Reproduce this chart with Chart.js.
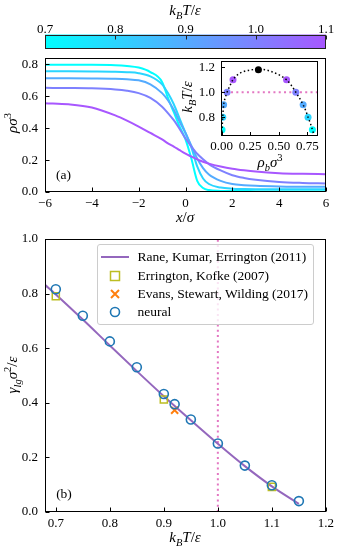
<!DOCTYPE html>
<html>
<head>
<meta charset="utf-8">
<script src="https://cdn.jsdelivr.net/npm/chart.js@4.4.1/dist/chart.umd.min.js"></script>
<style>
  html, body { margin: 0; padding: 0; background: #fff; }
  #fig { position: relative; width: 338px; height: 550px; overflow: hidden; font-family: "Liberation Serif", serif; color: #000; }
  #fig canvas { position: absolute; left: 0; top: 0; }
  .lbl { position: absolute; font-size: 15px; white-space: nowrap; line-height: 1; transform: translate(-50%, -50%); }
  .plain { font-size: 13.5px; }
  .rot { transform: translate(-50%, -50%) rotate(-90deg); }
  .lbl sub, .lbl sup { font-size: 70%; line-height: 0; }
  #legendB { position: absolute; left: 97px; top: 244px; width: 215px; height: 76px; border: 1px solid #ccc; border-radius: 3px;
             background: rgba(255,255,255,0.8); font-size: 13.5px; padding-top: 3px; box-sizing: content-box; white-space: nowrap; }
  #legendB .row { height: 18.4px; display: flex; align-items: center; }
  #legendB svg { margin-left: 3px; margin-right: 8.5px; flex: none; }
</style>
</head>
<body>
<div id="fig">
  <canvas id="cbar" width="338" height="550"></canvas>
  <canvas id="profiles" width="338" height="550"></canvas>
  <canvas id="inset" width="338" height="550"></canvas>
  <canvas id="tension" width="338" height="550"></canvas>

  <div class="lbl" style="left:185px;top:10px"><i>k<sub>B</sub>T</i>/<i>ε</i></div>
  <div class="lbl" style="left:185px;top:217px"><i>x</i>/<i>σ</i></div>
  <div class="lbl rot" style="left:12px;top:123px"><i>ρσ</i><sup>3</sup></div>
  <div class="lbl plain" style="left:63.5px;top:175px">(a)</div>
  <div class="lbl rot" style="left:187px;top:97px"><i>k<sub>B</sub>T</i>/<i>ε</i></div>
  <div class="lbl" style="left:270px;top:162px"><i>ρ<sub>b</sub>σ</i><sup>3</sup></div>
  <div class="lbl rot" style="left:12px;top:375px"><i>γ<sub>lg</sub>σ</i><sup>2</sup>/<i>ε</i></div>
  <div class="lbl" style="left:185px;top:537px"><i>k<sub>B</sub>T</i>/<i>ε</i></div>
  <div class="lbl plain" style="left:64px;top:494px">(b)</div>
  <div id="legendB"></div>
</div>

<script>
// ---- data ----

// colorbar / temperatures
const cbarTicks = [0.7, 0.8, 0.9, 1.0, 1.1];
const profileTemps = [0.7, 0.8, 0.9, 1.0, 1.1];

// (a) density profiles rho(x) at each temperature
const xProfile = [-6, -5, -4, -3, -2.5, -2, -1.5, -1, -0.75, -0.5, -0.25, 0, 0.25, 0.5, 0.75, 1, 1.5, 2, 2.5, 3, 4, 5, 6];
const rhoT07 = [0.797, 0.797, 0.797, 0.795, 0.79, 0.78, 0.752, 0.69, 0.59, 0.50, 0.41, 0.33, 0.21, 0.07, 0.025, 0.012, 0.007, 0.006, 0.006, 0.005, 0.005, 0.005, 0.005];
const rhoT08 = [0.757, 0.757, 0.756, 0.754, 0.751, 0.745, 0.725, 0.675, 0.62, 0.55, 0.46, 0.37, 0.28, 0.16, 0.085, 0.05, 0.028, 0.021, 0.019, 0.018, 0.017, 0.017, 0.017];
const rhoT09 = [0.713, 0.713, 0.712, 0.71, 0.707, 0.70, 0.675, 0.62, 0.575, 0.515, 0.44, 0.37, 0.29, 0.21, 0.15, 0.11, 0.07, 0.05, 0.043, 0.039, 0.035, 0.033, 0.033];
const rhoT10 = [0.653, 0.652, 0.65, 0.643, 0.635, 0.62, 0.59, 0.535, 0.495, 0.45, 0.395, 0.335, 0.285, 0.24, 0.205, 0.175, 0.135, 0.105, 0.088, 0.077, 0.063, 0.057, 0.054];
const rhoT11 = [0.557, 0.55, 0.53, 0.48, 0.447, 0.41, 0.37, 0.33, 0.305, 0.285, 0.262, 0.24, 0.222, 0.205, 0.19, 0.178, 0.16, 0.146, 0.136, 0.128, 0.118, 0.114, 0.112];
const profileRows = [rhoT07, rhoT08, rhoT09, rhoT10, rhoT11];
const xTicksA = [-6, -4, -2, 0, 2, 4, 6];
const yTicksA = [0.0, 0.2, 0.4, 0.6, 0.8];

// inset: binodal
const binoRho = [0.001, 0.004, 0.010, 0.018, 0.030, 0.048, 0.072, 0.100, 0.14, 0.19, 0.25, 0.32, 0.39, 0.45, 0.51, 0.568, 0.61, 0.649, 0.683, 0.713, 0.737, 0.756, 0.777, 0.794, 0.81];
const binoT = [0.65, 0.70, 0.80, 0.90, 0.95, 1.00, 1.05, 1.10, 1.14, 1.165, 1.178, 1.183, 1.178, 1.16, 1.135, 1.10, 1.055, 1.00, 0.95, 0.90, 0.85, 0.80, 0.75, 0.70, 0.65];
const coexT = [0.7, 0.8, 0.9, 1.0, 1.1];
const rhoVap = [0.004, 0.010, 0.018, 0.048, 0.100];
const rhoLiq = [0.794, 0.756, 0.713, 0.649, 0.568];
const rhoCrit = 0.322, tCrit = 1.18;
const xTicksInset = [0, 0.25, 0.5, 0.75];
const yTicksInset = [0.8, 1.0, 1.2];

// (b) surface tension
const raneT = [0.68, 0.70, 0.75, 0.80, 0.85, 0.90, 0.95, 1.00, 1.05, 1.10, 1.15];
const raneGamma = [0.832, 0.797, 0.705, 0.610, 0.516, 0.424, 0.336, 0.250, 0.168, 0.094, 0.030];
const erringtonT = [0.70, 0.90, 1.10];
const erringtonGamma = [0.790, 0.412, 0.092];
const evansT = [0.92];
const evansGamma = [0.373];
const neuralT = [0.70, 0.75, 0.80, 0.85, 0.90, 0.92, 0.95, 1.00, 1.05, 1.10, 1.15];
const neuralGamma = [0.816, 0.719, 0.625, 0.530, 0.432, 0.395, 0.339, 0.251, 0.170, 0.098, 0.040];
const xTicksB = [0.7, 0.8, 0.9, 1.0, 1.1, 1.2];
const yTicksB = [0.0, 0.2, 0.4, 0.6, 0.8, 1.0];

// ---- helpers ----
const FONT = { family: '"Liberation Serif", serif', size: 13 };
const PINK = '#e377c2';

// "cool" colormap, cut at 0.66 of its range
function coolColor(T) {
  const t = 0.66 * (T - 0.7) / 0.4;
  return `rgb(${Math.round(255 * t)},${Math.round(255 * (1 - t))},255)`;
}
const pts = (xs, ys) => xs.map((x, i) => ({ x, y: ys[i] }));
const fixTicks = (arr) => (s) => { s.ticks = arr.map(v => ({ value: v })); };
const minus = (s) => s.replace('-', '\u2212');

// box + inward ticks, like matplotlib
const framePlugin = {
  id: 'frame',
  beforeDraw(chart, args, opts) {
    const { ctx, chartArea: a } = chart;
    if (opts.fill) {
      ctx.save();
      ctx.fillStyle = opts.fill;
      ctx.fillRect(a.left, a.top, a.right - a.left, a.bottom - a.top);
      ctx.restore();
    }
  },
  beforeDatasetsDraw(chart, args, opts) {
    if (!opts.gradient) return;
    const { ctx, chartArea: a } = chart;
    const g = ctx.createLinearGradient(a.left, 0, a.right, 0);
    g.addColorStop(0, coolColor(0.7));
    g.addColorStop(1, coolColor(1.1));
    ctx.save();
    ctx.fillStyle = g;
    ctx.fillRect(a.left, a.top, a.right - a.left, a.bottom - a.top);
    ctx.restore();
  },
  afterDraw(chart, args, opts) {
    const { ctx, chartArea: a } = chart;
    const len = opts.tickLen || 4;
    ctx.save();
    ctx.strokeStyle = opts.color || '#000';
    ctx.lineWidth = 1;
    const L = Math.round(a.left) + 0.5, R = Math.round(a.right) - 0.5;
    const T = Math.round(a.top) + 0.5, B = Math.round(a.bottom) - 0.5;
    ctx.strokeRect(L, T, R - L, B - T);
    ctx.beginPath();
    const xs = chart.scales.x;
    xs.ticks.forEach(t => {
      const px = Math.round(xs.getPixelForValue(t.value)) + 0.5;
      if (opts.xSide === 'top') { ctx.moveTo(px, T); ctx.lineTo(px, T + len); }
      else { ctx.moveTo(px, B); ctx.lineTo(px, B - len); }
    });
    const ys = chart.scales.y;
    if (ys.options.display !== false) {
      ys.ticks.forEach(t => {
        const py = Math.round(ys.getPixelForValue(t.value)) + 0.5;
        ctx.moveTo(L, py); ctx.lineTo(L + len, py);
      });
    }
    ctx.stroke();
    ctx.restore();
  }
};

const baseOpts = (padding, plugOpts) => ({
  responsive: false,
  animation: false,
  devicePixelRatio: 1,
  layout: { padding },
  plugins: { legend: { display: false }, tooltip: { enabled: false }, frame: plugOpts },
  events: []
});

const axis = (min, max, ticksArr, fmt, pos, size, pad) => ({
  type: 'linear', position: pos, min, max,
  grid: { display: false, drawTicks: false },
  border: { display: false },
  afterBuildTicks: fixTicks(ticksArr),
  afterFit: (s) => { if (pos === 'left') s.width = size; else s.height = size; },
  ticks: { font: FONT, color: '#000', padding: pad, callback: fmt, maxRotation: 0, autoSkip: false }
});

// ---- colorbar ----
new Chart(document.getElementById('cbar'), {
  type: 'scatter',
  data: { datasets: [] },
  options: Object.assign(baseOpts({ top: 14.5, left: 45, right: 12, bottom: 501.5 }, { gradient: true, xSide: 'top', tickLen: 4, color: '#222' }), {
    scales: {
      x: axis(0.7, 1.1, cbarTicks, v => v.toFixed(1), 'top', 20, -3),
      y: { display: false, min: 0, max: 1 }
    }
  }),
  plugins: [framePlugin]
});

// ---- (a) density profiles ----
new Chart(document.getElementById('profiles'), {
  type: 'scatter',
  data: {
    datasets: profileRows.map((row, i) => ({
      data: pts(xProfile, row),
      showLine: true,
      borderColor: coolColor(profileTemps[i]),
      borderWidth: 2,
      pointRadius: 0,
      cubicInterpolationMode: 'monotone',
      order: profileRows.length - i
    }))
  },
  options: Object.assign(baseOpts({ top: 58, left: 15, right: 12, bottom: 338 }, {}), {
    scales: {
      x: axis(-6, 6, xTicksA, v => minus(String(v)), 'bottom', 20, 4),
      y: axis(0, 0.84, yTicksA, v => v.toFixed(1), 'left', 30, 7)
    }
  }),
  plugins: [framePlugin]
});

// ---- inset: binodal ----
new Chart(document.getElementById('inset'), {
  type: 'scatter',
  data: {
    datasets: [
      { data: pts(binoRho, binoT), showLine: true, borderColor: '#000', borderWidth: 1.5, borderDash: [1.5, 2.5],
        pointRadius: 0, cubicInterpolationMode: 'monotone', order: 0 },
      { data: [{ x: rhoCrit, y: tCrit }], pointRadius: 3.5, backgroundColor: '#000', borderWidth: 0, order: 1 },
      { data: pts(rhoVap, coexT).concat(pts(rhoLiq, coexT)),
        pointRadius: 3.5, borderWidth: 0,
        backgroundColor: coexT.concat(coexT).map(coolColor), order: 2 },
      { data: [{ x: -0.01, y: 1.0 }, { x: 0.85, y: 1.0 }], showLine: true, borderColor: PINK, borderWidth: 2,
        borderDash: [2, 3.3], pointRadius: 0, order: 3 }
    ]
  },
  options: Object.assign(baseOpts({ top: 61, left: 191, right: 20, bottom: 398 }, { fill: '#fff', tickLen: 3.5 }), {
    scales: {
      x: axis(-0.005, 0.843, xTicksInset, v => v.toFixed(2), 'bottom', 16, 3),
      y: axis(0.65, 1.25, yTicksInset, v => v.toFixed(1), 'left', 30, 6)
    }
  }),
  plugins: [framePlugin]
});

// ---- (b) surface tension ----
const chartB = new Chart(document.getElementById('tension'), {
  type: 'scatter',
  data: {
    datasets: [
      { label: 'Rane, Kumar, Errington (2011)', data: pts(raneT, raneGamma), showLine: true, borderColor: '#9467bd',
        borderWidth: 2, pointRadius: 0, cubicInterpolationMode: 'monotone', order: 4 },
      { label: 'Errington, Kofke (2007)', data: pts(erringtonT, erringtonGamma), pointStyle: 'rect', pointRadius: 5,
        borderColor: '#bcbd22', backgroundColor: 'rgba(0,0,0,0)', borderWidth: 1.5, order: 3 },
      { label: 'Evans, Stewart, Wilding (2017)', data: pts(evansT, evansGamma), pointStyle: 'crossRot', pointRadius: 5,
        borderColor: '#ff7f0e', borderWidth: 2, order: 2 },
      { label: 'neural', data: pts(neuralT, neuralGamma), pointStyle: 'circle', pointRadius: 4.5,
        borderColor: '#1f77b4', backgroundColor: 'rgba(0,0,0,0)', borderWidth: 1.6, order: 1 },
      { data: [{ x: 1.0, y: 0 }, { x: 1.0, y: 1 }], showLine: true, borderColor: PINK, borderWidth: 2,
        borderDash: [2, 3.3], pointRadius: 0, order: 5 }
    ]
  },
  options: Object.assign(baseOpts({ top: 239, left: 15, right: 12, bottom: 18 }, {}), {
    scales: {
      x: axis(0.68, 1.2, xTicksB, v => v.toFixed(1), 'bottom', 20, 4),
      y: axis(0, 1.0, yTicksB, v => v.toFixed(1), 'left', 30, 7)
    }
  }),
  plugins: [framePlugin]
});

// html legend built from the datasets
function legendSymbol(ds) {
  const c = ds.borderColor;
  if (ds.showLine) return `<line x1="0" y1="6" x2="28" y2="6" stroke="${c}" stroke-width="2"/>`;
  if (ds.pointStyle === 'rect') return `<rect x="9.5" y="1.5" width="9" height="9" fill="none" stroke="${c}" stroke-width="1.5"/>`;
  if (ds.pointStyle === 'crossRot') return `<path d="M10 2 L18 10 M18 2 L10 10" stroke="${c}" stroke-width="2"/>`;
  return `<circle cx="14" cy="6" r="4.5" fill="none" stroke="${c}" stroke-width="1.6"/>`;
}
document.getElementById('legendB').innerHTML = chartB.data.datasets
  .filter(ds => ds.label)
  .map(ds => `<div class="row"><svg width="28" height="12">${legendSymbol(ds)}</svg><span>${ds.label}</span></div>`)
  .join('');
</script>
</body>
</html>
